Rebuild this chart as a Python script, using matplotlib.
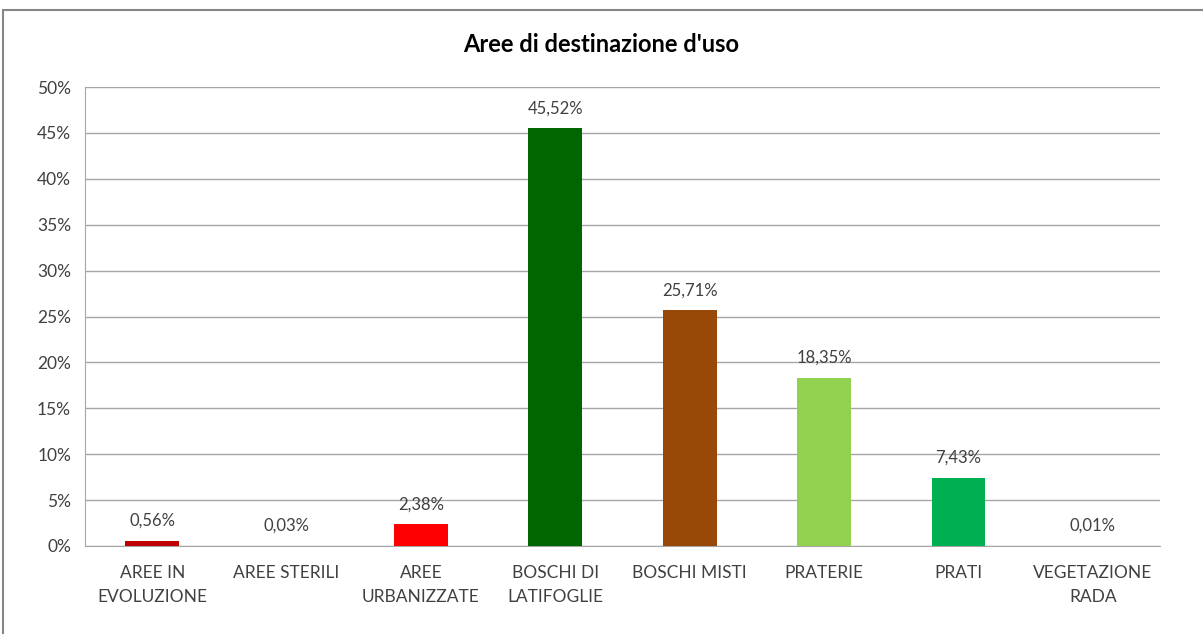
import matplotlib
matplotlib.use("Agg")
import matplotlib.pyplot as plt
from matplotlib.patches import Rectangle
from matplotlib.ticker import FuncFormatter

categories = ["AREE IN\nEVOLUZIONE", "AREE STERILI", "AREE\nURBANIZZATE", "BOSCHI DI\nLATIFOGLIE",
              "BOSCHI MISTI", "PRATERIE", "PRATI", "VEGETAZIONE\nRADA"]
values = [0.56, 0.03, 2.38, 45.52, 25.71, 18.35, 7.43, 0.01]
labels = ["0,56%", "0,03%", "2,38%", "45,52%", "25,71%", "18,35%", "7,43%", "0,01%"]
colors = ["#C00000", "#C00000", "#FF0000", "#006600", "#984807", "#92D050", "#00B050", "#92D050"]
yticks = [0, 5, 10, 15, 20, 25, 30, 35, 40, 45, 50]

plt.rcParams['font.family'] = ['Lato', 'DejaVu Sans']

fig = plt.figure(figsize=(12.03, 6.34), dpi=100)
fig.patch.set_facecolor("white")
ax = fig.add_axes([85/1203, 1-546/634, (1160-85)/1203, (546-87)/634])

x = list(range(len(categories)))
bars = ax.bar(x, values, width=0.4, color=colors, zorder=3)
for xi, v, lab in zip(x, values, labels):
    ax.annotate(lab, (xi, v), xytext=(0, 8.5), textcoords="offset points",
                ha="center", va="bottom", fontsize=12, color="#404040")

ax.set_xlim(-0.5, len(categories) - 0.5)
ax.set_ylim(0, 50)
ax.set_yticks(yticks)
ax.yaxis.set_major_formatter(FuncFormatter(lambda v, p: f"{int(v)}%"))
ax.set_xticks(x)
ax.set_xticklabels(categories, fontsize=12.5, color="#404040", linespacing=1.6)
ax.tick_params(axis="y", labelsize=12.5, labelcolor="#404040", length=0, pad=10)
ax.tick_params(axis="x", length=0, pad=14)
ax.grid(axis="y", color="#A6A6A6", linewidth=1, zorder=0)
for s in ["top", "right"]:
    ax.spines[s].set_visible(False)
ax.spines["left"].set_color("#A6A6A6")
ax.spines["bottom"].set_color("#A6A6A6")

fig.text(0.5, 1-45/634, "Aree di destinazione d'uso", ha="center", va="center",
         fontsize=17, fontweight="bold", color="black")

fig.add_artist(Rectangle((3/1203, -0.1), 1.2, 1-10/634+0.1, transform=fig.transFigure,
                         fill=False, edgecolor="#868686", linewidth=1.5))

fig.savefig("out.png", dpi=100)
